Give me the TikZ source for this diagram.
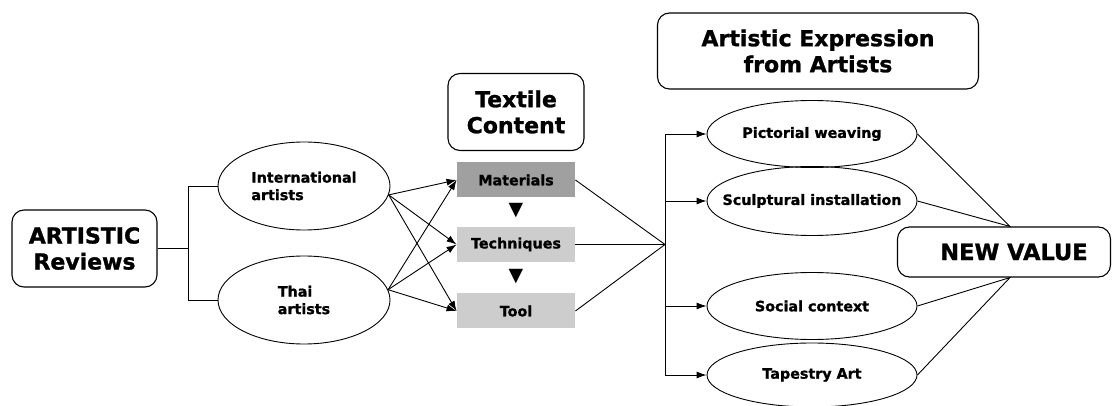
\documentclass[tikz,border=0pt]{standalone}
\usepackage{fontspec}
\setmainfont{DejaVu Sans}[BoldFeatures={FakeBold=1.2}]
\usetikzlibrary{shapes.geometric,arrows.meta,positioning}
\definecolor{mydark}{RGB}{160,160,160}
\definecolor{mylight}{RGB}{205,205,205}
\newcommand{\bigtxt}{\fontsize{22}{26}\selectfont\bfseries}
\newcommand{\smalltxt}{\fontsize{14.3}{17.5}\selectfont\bfseries}
\begin{document}
\begin{tikzpicture}[x=1pt,y=-1pt,line width=0.9pt,
  hbox/.style={draw,rounded corners=12pt,align=center,font=\bigtxt,line width=1.1pt,inner sep=0pt},
  oval/.style={draw,ellipse,align=center,font=\smalltxt,inner sep=-40pt},
  tbox/.style={minimum width=118pt,minimum height=35pt,inner sep=0pt,font=\smalltxt},
  arr/.style={-{Latex[length=10pt,width=7pt]}}]
  \useasboundingbox (0,0) rectangle (1112,406);

  % left part
  \node[hbox,minimum width=145pt,minimum height=77pt] (rev) at (84.5,248.5) {ARTISTIC\\Reviews};
  \node[oval,align=left,minimum width=172pt,minimum height=88pt] (intl) at (304,186) {International\\artists};
  \node[oval,align=left,minimum width=172pt,minimum height=88pt] (thai) at (304,300) {Thai\\artists};

  \coordinate (fork) at (188,248.5);
  \draw (rev) -- (fork) |- (intl);
  \draw (fork) |- (thai);

  % textile content
  \node[hbox,minimum width=136pt,minimum height=77pt] (tex) at (516,112) {Textile\\Content};
  \node[tbox,fill=mydark] (mat) at (516,180) {Materials};
  \node[tbox,fill=mylight] (tech) at (516,244.5) {Techniques};
  \node[tbox,fill=mylight] (tool) at (516,311) {Tool};
  \node[font=\fontsize{19}{19}\selectfont,inner sep=0pt] (tri1) at (516,211) {▼};
  \node[font=\fontsize{19}{19}\selectfont,inner sep=0pt] (tri2) at (516,277) {▼};

  \foreach \src in {intl.-6,thai.7}
    \foreach \dst in {mat,tech,tool}
      \draw[arr] (\src) -- (\dst.west);

  % artistic expression
  \coordinate (merge) at (665,244.5);
  \foreach \n in {mat,tech,tool}
    \draw (\n.east) -- (merge);

  \node[hbox,minimum width=321pt,minimum height=76pt] (expr) at (818,51) {Artistic Expression\\from Artists};
  \node[oval,minimum width=210pt,minimum height=67pt] (pw) at (812,134) {Pictorial weaving};
  \node[oval,minimum width=210pt,minimum height=69pt] (sc) at (812,201) {Sculptural installation};
  \node[oval,minimum width=210pt,minimum height=67pt] (soc) at (812,306) {Social context};
  \node[oval,minimum width=210pt,minimum height=64pt] (tap) at (812,375) {Tapestry Art};

  \draw (merge |- pw) -- (merge |- tap);
  \foreach \n in {pw,sc,soc,tap}
    \draw[arr] (merge |- \n) -- (\n);

  % new value
  \node[hbox,minimum width=213pt,minimum height=50pt,font=\fontsize{22.5}{26}\selectfont\bfseries] (nv) at (1004,252) {\hspace*{20pt}NEW VALUE};
  \draw (pw.east) -- ([xshift=6pt]nv.north) -- (sc.east);
  \draw (soc.east) -- ([xshift=6pt]nv.south) -- (tap.east);
\end{tikzpicture}
\end{document}
